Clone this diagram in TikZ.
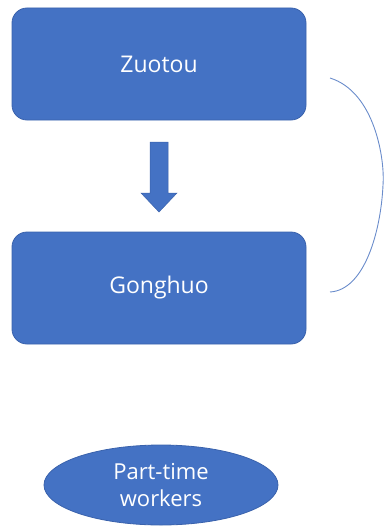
\documentclass[tikz,border=0pt]{standalone}
\usepackage{fontspec}
\setmainfont{Open Sans}
\usetikzlibrary{shapes.geometric}
\definecolor{officeblue}{HTML}{4472C4}
\definecolor{edgeblue}{HTML}{3A62AC}
\definecolor{bracketblue}{HTML}{6A8CCB}
\begin{document}
\begin{tikzpicture}[x=1pt,y=-1pt,
  block/.style={draw=edgeblue,line width=0.8pt,fill=officeblue,rounded corners=15pt,
    minimum width=294pt,minimum height=112pt,text=white,
    font=\fontsize{23}{27}\selectfont},
  oval/.style={ellipse,draw=edgeblue,line width=0.8pt,fill=officeblue,
    minimum width=234pt,minimum height=80pt,inner sep=0pt,text=white,align=center,
    font=\fontsize{22}{27}\selectfont}]
  \useasboundingbox (0,0) rectangle (384,527);
  \node[block] (zuotou) at (159,64) {Zuotou};
  \node[block] (gonghuo) at (159,288) {Gonghuo};
  \node[oval] (pt) at (161,485) {Part-time\\workers};
  % block arrow between the two boxes
  \fill[officeblue,draw=edgeblue,line width=0.5pt]
    (150,142) -- (168,142) -- (168,193) -- (177,193) -- (159,212)
    -- (141,193) -- (150,193) -- cycle;
  % bracket joining the two boxes
  \coordinate (bt) at (330,78);
  \coordinate (bb) at (330,292);
  \draw[bracketblue,line width=0.9pt] (bt) .. controls (375,92) and (385,160) .. (383,185)
    .. controls (381,230) and (365,290) .. (bb);
\end{tikzpicture}
\end{document}
